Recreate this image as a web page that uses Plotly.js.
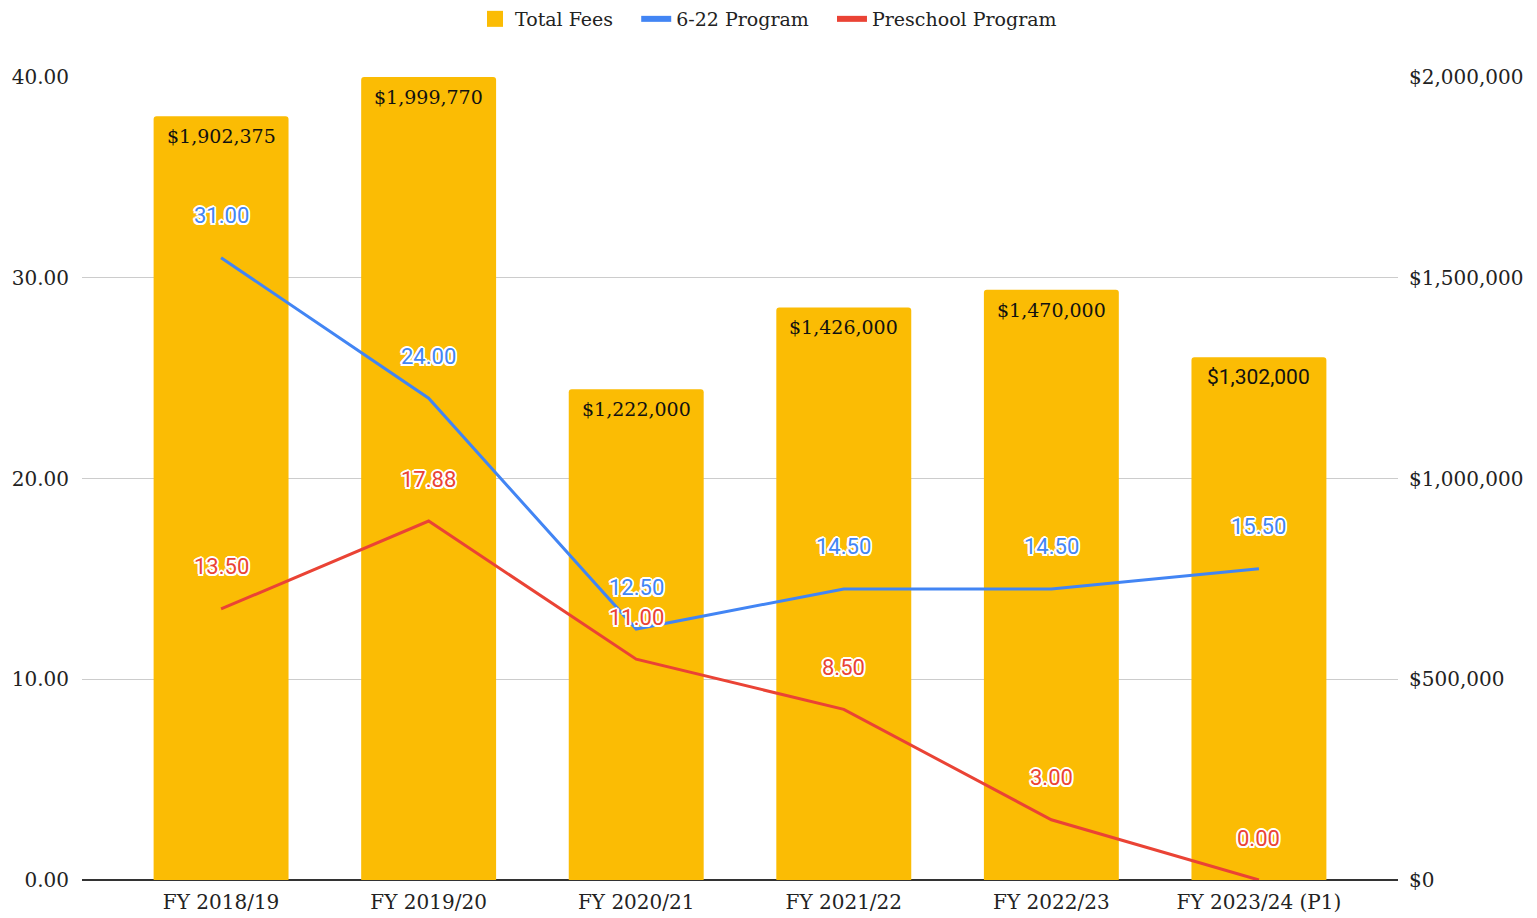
<!DOCTYPE html>
<html>
<head>
<meta charset="utf-8">
<script src="https://cdn.plot.ly/plotly-3.0.1.min.js"></script>
<style>html,body{margin:0;padding:0;background:#fff;}#chart{width:1537px;height:918px;}</style>
</head>
<body>
<div id="chart"></div>
<script>
const categories = ["FY 2018/19", "FY 2019/20", "FY 2020/21", "FY 2021/22", "FY 2022/23", "FY 2023/24 (P1)"];
const totalFees = [1902375, 1999770, 1222000, 1426000, 1470000, 1302000];
const program622 = [31.00, 24.00, 12.50, 14.50, 14.50, 15.50];
const preschool = [13.50, 17.88, 11.00, 8.50, 3.00, 0.00];
const seriesNames = ["Total Fees", "6-22 Program", "Preschool Program"];

const SERIF = "DejaVu Serif";
const SANS = "Roboto";
const GOLD = "#FBBC04", BLUE = "#4285F4", RED = "#EA4335";
const outline = "2px 0 0 #fff, -2px 0 0 #fff, 0 2px 0 #fff, 0 -2px 0 #fff, 1.5px 1.5px 0 #fff, -1.5px -1.5px 0 #fff, 1.5px -1.5px 0 #fff, -1.5px 1.5px 0 #fff";
const pad = "\u00a0\u00a0\u00a0";

const traces = [
  {
    type: "bar", name: seriesNames[0], x: categories, y: totalFees, yaxis: "y",
    marker: {color: GOLD}, showlegend: false, hoverinfo: "x+y"
  },
  {
    type: "scatter", mode: "lines", name: seriesNames[1], x: categories, y: program622, yaxis: "y2",
    line: {color: BLUE, width: 3}, showlegend: false
  },
  {
    type: "scatter", mode: "lines", name: seriesNames[2], x: categories, y: preschool, yaxis: "y2",
    line: {color: RED, width: 3}, showlegend: false
  },
  // legend entries (no data drawn)
  {
    type: "scatter", mode: "markers", name: seriesNames[0] + pad, x: [null], y: [null], yaxis: "y2",
    marker: {symbol: "square", size: 16, color: GOLD}
  },
  {
    type: "scatter", mode: "lines", name: seriesNames[1] + pad, x: [null], y: [null], yaxis: "y2",
    line: {color: BLUE, width: 6}
  },
  {
    type: "scatter", mode: "lines", name: seriesNames[2], x: [null], y: [null], yaxis: "y2",
    line: {color: RED, width: 6}
  }
];

const annotations = [];
totalFees.forEach((v, i) => {
  const last = i === totalFees.length - 1;
  annotations.push({
    x: categories[i], y: v, xref: "x", yref: "y", yshift: -20, yanchor: "middle", showarrow: false,
    text: "$" + v.toLocaleString("en-US"),
    font: {family: last ? SANS : SERIF, size: last ? 21 : 19, color: "#111"}
  });
});
[[program622, BLUE], [preschool, RED]].forEach(([vals, col]) => {
  vals.forEach((v, i) => {
    annotations.push({
      x: categories[i], y: v, xref: "x", yref: "y2", yshift: 42, showarrow: false,
      text: v.toFixed(2),
      font: {family: SANS, size: 22, color: col, shadow: outline}
    });
  });
});

const tickFont = {family: SERIF, size: 20, color: "#222"};

const layout = {
  width: 1537, height: 918,
  margin: {l: 82, r: 139, t: 77, b: 38},
  paper_bgcolor: "#fff", plot_bgcolor: "#fff",
  font: {family: SERIF, size: 19, color: "#222"},
  bargap: 0.35,
  barcornerradius: 3,
  showlegend: true,
  legend: {
    orientation: "h", x: 0.5, xanchor: "center", xref: "container",
    y: 1.0, yanchor: "top", yref: "container",
    font: {family: SERIF, size: 19, color: "#222"},
    itemwidth: 30, itemsizing: "trace", tracegroupgap: 0
  },
  xaxis: {
    type: "category", range: [-0.67, 5.67],
    showgrid: false, zeroline: false, showline: false,
    ticks: "", ticklabelstandoff: 8,
    tickfont: tickFont
  },
  yaxis: {
    side: "right", range: [0, 2000000], dtick: 500000, tick0: 0,
    tickprefix: "$", tickformat: ",d",
    showgrid: true, gridcolor: "#cccccc", gridwidth: 1,
    zeroline: true, zerolinecolor: "#333", zerolinewidth: 1.5,
    ticks: "", ticklabelstandoff: 10,
    tickfont: tickFont
  },
  yaxis2: {
    side: "left", overlaying: "y", range: [0, 40], dtick: 10, tick0: 0,
    tickformat: ".2f",
    showgrid: false, zeroline: false,
    ticks: "", ticklabelstandoff: 12,
    tickfont: tickFont
  },
  annotations: annotations
};

Plotly.newPlot("chart", traces, layout, {displayModeBar: false, staticPlot: true});
</script>
</body>
</html>
